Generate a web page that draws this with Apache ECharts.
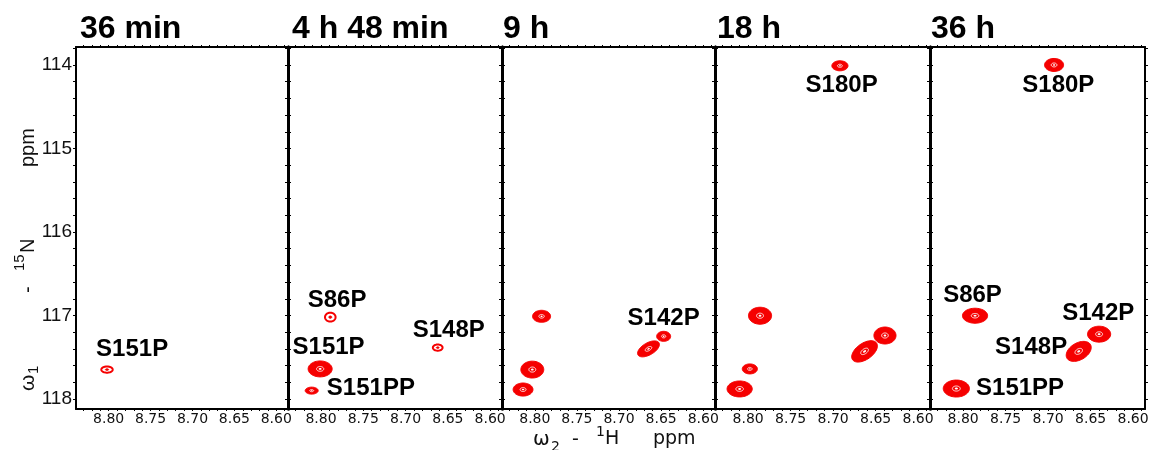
<!DOCTYPE html>
<html><head><meta charset="utf-8">
<script src="https://cdn.jsdelivr.net/npm/echarts@6/dist/echarts.min.js"></script>
<style>html,body{margin:0;padding:0;background:#fff}#c{width:1149px;height:450px}</style>
</head><body><div id="c"></div>
<script>
// ---------- data ----------
const panelTitles = ['36 min', '4 h 48 min', '9 h', '18 h', '36 h'];
const xTickLabels = [8.80, 8.75, 8.70, 8.65, 8.60];
const yTickLabels = [114, 115, 116, 117, 118];

// peaks: [1H ppm, 15N ppm, half-width 1H ppm, half-width 15N ppm, contour levels, tilt deg]
const peaks36min = [
  [8.802, 117.648, 0.0077, 0.042, 2, 0]
];
const peaks4h48min = [
  [8.789, 117.020, 0.0071, 0.060, 2, 0],
  [8.662, 117.385, 0.0065, 0.042, 2, 0],
  [8.801, 117.640, 0.0142, 0.0955, 5, 0],
  [8.811, 117.900, 0.0077, 0.042, 3, 0]
];
const peaks9h = [
  [8.792, 117.010, 0.0107, 0.072, 4, 0],
  [8.803, 117.648, 0.0136, 0.101, 5, 0],
  [8.814, 117.887, 0.0118, 0.078, 5, 0],
  [8.647, 117.250, 0.0083, 0.060, 3, 0],
  [8.665, 117.400, 0.0144, 0.072, 5, 30]
];
const peaks18h = [
  [8.786, 117.003, 0.0136, 0.1015, 6, 0],
  [8.798, 117.640, 0.0089, 0.060, 3, 0],
  [8.810, 117.880, 0.0148, 0.0955, 6, 0],
  [8.639, 117.240, 0.0130, 0.1015, 6, 0],
  [8.663, 117.430, 0.0172, 0.097, 6, 35],
  [8.692, 114.010, 0.0095, 0.060, 4, 0]
];
const peaks36h = [
  [8.786, 117.003, 0.0148, 0.0896, 6, 0],
  [8.640, 117.224, 0.0136, 0.0955, 6, 0],
  [8.664, 117.430, 0.0160, 0.1015, 6, 30],
  [8.808, 117.875, 0.0154, 0.1015, 7, 0],
  [8.693, 114.000, 0.0112, 0.0776, 5, 0]
];

// assignment labels: [text, 1H ppm, 15N ppm]
const labels36min = [['S151P', 8.772, 117.40]];
const labels4h48min = [
  ['S86P', 8.781, 116.82],
  ['S148P', 8.649, 117.18],
  ['S151P', 8.791, 117.385],
  ['S151PP', 8.741, 117.875]
];
const labels9h = [['S142P', 8.647, 117.04]];
const labels18h = [['S180P', 8.690, 114.245]];
const labels36h = [
  ['S86P', 8.789, 116.76],
  ['S142P', 8.641, 116.98],
  ['S148P', 8.720, 117.38],
  ['S151PP', 8.733, 117.875],
  ['S180P', 8.688, 114.24]
];

const peakSets = [peaks36min, peaks4h48min, peaks9h, peaks18h, peaks36h];
const labelSets = [labels36min, labels4h48min, labels9h, labels18h, labels36h];

// ---------- layout ----------
const gridLeft = [76, 288, 502, 715, 930];
const gridWidth = [212, 214, 213, 215, 215];
const gridTop = 47, gridHeight = 362;
const xMin = 8.586, xMax = 8.839;
const yMin = 113.785, yMax = 118.12;

const xMinorTicks = [];
for (let k = 859; k <= 883; k++) xMinorTicks.push(k / 100);
const yMinorTicks = [];
for (let k = 569; k <= 590; k++) yMinorTicks.push(k / 5);

const RED = '#f50000';

function ellipsePts(c, rx, ry, ang, s) {
  const p = [];
  const ca = Math.cos(ang), sa = Math.sin(ang);
  for (let k = 0; k < 56; k++) {
    const t = k / 56 * 2 * Math.PI;
    const ex = rx * s * Math.cos(t), ey = ry * s * Math.sin(t);
    p.push([c[0] + ex * ca + ey * sa, c[1] - ex * sa + ey * ca]);
  }
  return p;
}

function renderPeak(params, api) {
  const c = api.coord([api.value(0), api.value(1)]);
  const sz = api.size([api.value(2), api.value(3)]);
  const rx = Math.abs(sz[0]), ry = Math.abs(sz[1]);
  const lv = api.value(4), ang = api.value(5) * Math.PI / 180;
  const ch = [];
  if (lv <= 2) {
    ch.push({type: 'polygon', shape: {points: ellipsePts(c, rx, ry, ang, 0.88)}, style: {fill: 'none', stroke: RED, lineWidth: 2}});
    ch.push({type: 'polygon', shape: {points: ellipsePts(c, rx, ry, ang, 0.25)}, style: {fill: RED, stroke: RED, lineWidth: 0.8}});
  } else {
    ch.push({type: 'polygon', shape: {points: ellipsePts(c, rx, ry, ang, 1)}, style: {fill: RED, stroke: RED, lineWidth: 1}});
    ch.push({type: 'polygon', shape: {points: ellipsePts(c, rx, ry, ang, 0.3)}, style: {fill: 'none', stroke: '#ffffff', lineWidth: 0.9}});
    ch.push({type: 'polygon', shape: {points: ellipsePts(c, rx, ry, ang, 0.12)}, style: {fill: '#ffffff', stroke: 'none'}});
  }
  return {type: 'group', children: ch};
}

const grids = [], xAxes = [], yAxes = [], series = [];
for (let i = 0; i < 5; i++) {
  grids.push({left: gridLeft[i], width: gridWidth[i], top: gridTop, height: gridHeight,
    containLabel: false, outerBoundsMode: 'none'});
  const leftW = i === 0 ? 2 : 3, rightW = i === 4 ? 2 : 3;
  const xBase = {
    type: 'value', gridIndex: i, inverse: true, min: xMin, max: xMax,
    splitLine: {show: false},
    axisTick: {show: true, inside: false, length: 2, lineStyle: {color: '#000', width: 1}, customValues: xMinorTicks},
    minorTick: {show: false}
  };
  xAxes.push(Object.assign({}, xBase, {
    position: 'bottom',
    axisLine: {show: true, onZero: false, lineStyle: {color: '#000', width: 2}},
    axisLabel: {show: true, customValues: xTickLabels, formatter: v => Number(v).toFixed(2),
      fontFamily: 'DejaVu Sans', fontSize: 14, color: '#111', margin: 3}
  }));
  xAxes.push(Object.assign({}, xBase, {
    position: 'top',
    axisLine: {show: true, onZero: false, lineStyle: {color: '#000', width: 2}},
    axisLabel: {show: false}
  }));
  const yBase = {
    type: 'value', gridIndex: i, inverse: true, min: yMin, max: yMax,
    splitLine: {show: false},
    axisTick: {show: true, inside: false, length: 3, lineStyle: {color: '#000', width: 1}, customValues: yMinorTicks}
  };
  yAxes.push(Object.assign({}, yBase, {
    position: 'left',
    axisLine: {show: true, onZero: false, lineStyle: {color: '#000', width: leftW}},
    axisLabel: {show: i === 0, customValues: yTickLabels, formatter: v => String(Math.round(v)),
      fontFamily: 'Liberation Sans', fontSize: 19, color: '#111', margin: 4}
  }));
  yAxes.push(Object.assign({}, yBase, {
    position: 'right',
    axisLine: {show: true, onZero: false, lineStyle: {color: '#000', width: rightW}},
    axisLabel: {show: false}
  }));
  series.push({
    type: 'custom', coordinateSystem: 'cartesian2d', xAxisIndex: 2 * i, yAxisIndex: 2 * i,
    data: peakSets[i], renderItem: renderPeak, silent: true, clip: false, z: 2
  });
  const labs = labelSets[i];
  series.push({
    type: 'custom', coordinateSystem: 'cartesian2d', xAxisIndex: 2 * i, yAxisIndex: 2 * i,
    data: labs.map(l => [l[1], l[2]]), silent: true, clip: false, z: 3,
    renderItem: (params, api) => {
      const c = api.coord([api.value(0), api.value(1)]);
      return {type: 'text', x: c[0], y: c[1], style: {
        text: labs[params.dataIndex][0], fill: '#000', align: 'center', verticalAlign: 'middle',
        font: 'bold 24px "Liberation Sans", Arial, sans-serif'}};
    }
  });
}

const titleX = [80, 292, 503, 717, 931];
const graphic = panelTitles.map((t, i) => ({
  type: 'text', x: titleX[i], y: 29, style: {text: t, fill: '#000', align: 'left', verticalAlign: 'middle',
    font: 'bold 32px "Liberation Sans", Arial, sans-serif'}
}));

// x axis title: ω2 - 1H   ppm
const xf = '"DejaVu Sans", sans-serif';
graphic.push(
  {type: 'text', x: 533, y: 440, style: {text: 'ω', fill: '#111', font: '20px ' + xf, align: 'left', verticalAlign: 'middle'}},
  {type: 'text', x: 551, y: 447, style: {text: '2', fill: '#111', font: '14px ' + xf, align: 'left', verticalAlign: 'middle'}},
  {type: 'text', x: 572, y: 440, style: {text: '-', fill: '#111', font: '19px ' + xf, align: 'left', verticalAlign: 'middle'}},
  {type: 'text', x: 596, y: 432, style: {text: '1', fill: '#111', font: '14px ' + xf, align: 'left', verticalAlign: 'middle'}},
  {type: 'text', x: 605, y: 439, style: {text: 'H', fill: '#111', font: '19px ' + xf, align: 'left', verticalAlign: 'middle'}},
  {type: 'text', x: 653, y: 439, style: {text: 'ppm', fill: '#111', font: '19px ' + xf, align: 'left', verticalAlign: 'middle'}}
);

// y axis title (rotated): ω1 - 15N   ppm
const yf = '"Liberation Sans", Arial, sans-serif';
graphic.push({
  type: 'group', x: 28, y: 391, rotation: Math.PI / 2,
  children: [
    {type: 'text', x: 0, y: 0, style: {text: 'ω', fill: '#111', font: '21px ' + yf, align: 'left', verticalAlign: 'middle'}},
    {type: 'text', x: 17, y: 6, style: {text: '1', fill: '#111', font: '15px ' + yf, align: 'left', verticalAlign: 'middle'}},
    {type: 'text', x: 98, y: 0, style: {text: '-', fill: '#111', font: '20px ' + yf, align: 'left', verticalAlign: 'middle'}},
    {type: 'text', x: 120, y: -8, style: {text: '15', fill: '#111', font: '15px ' + yf, align: 'left', verticalAlign: 'middle'}},
    {type: 'text', x: 138, y: 0, style: {text: 'N', fill: '#111', font: '20px ' + yf, align: 'left', verticalAlign: 'middle'}},
    {type: 'text', x: 224, y: 0, style: {text: 'ppm', fill: '#111', font: '20px ' + yf, align: 'left', verticalAlign: 'middle'}}
  ]
});

const chart = echarts.init(document.getElementById('c'), null, {renderer: 'canvas'});
chart.setOption({
  animation: false, backgroundColor: '#fff',
  grid: grids, xAxis: xAxes, yAxis: yAxes, series: series, graphic: graphic
});
</script></body></html>
